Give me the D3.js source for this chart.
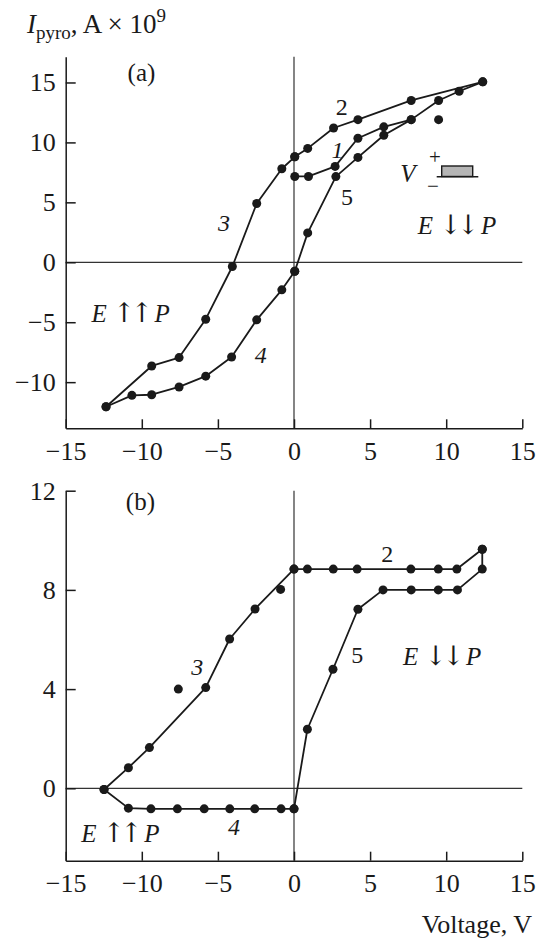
<!DOCTYPE html>
<html>
<head>
<meta charset="utf-8">
<script src="https://cdn.jsdelivr.net/npm/d3@7"></script>
<style>
  html, body { margin: 0; padding: 0; background: #fff; }
  svg text { font-family: "Liberation Serif", "Times New Roman", serif; fill: #1a1a1a; }
</style>
</head>
<body>
<svg id="chart" width="543" height="939"></svg>
<script>
'use strict';

// tick labels
var voltageTicks = [-15, -10, -5, 0, 5, 10, 15];
var topCurrentTicks = [-10, -5, 0, 5, 10, 15];
var bottomCurrentTicks = [0, 4, 8, 12];

// panel (a): [voltage, current]
var aCurve1 = [[0.05, 7.16], [0.95, 7.16], [2.7, 8.0], [4.2, 10.35], [5.9, 11.3],
    [7.7, 11.9], [9.5, 13.5], [10.85, 14.27], [12.4, 15.05]];
var aCurve2 = [[12.4, 15.05], [7.7, 13.5], [4.2, 11.9], [2.6, 11.2], [0.9, 9.5], [0.05, 8.8]];
var aCurve3 = [[0.05, 8.8], [-0.8, 7.8], [-2.45, 4.9], [-4.05, -0.35], [-5.8, -4.75],
    [-7.55, -7.95], [-9.35, -8.65], [-12.35, -12.05]];
var aCurve4 = [[-12.35, -12.05], [-10.65, -11.1], [-9.35, -11.05], [-7.55, -10.4],
    [-5.8, -9.5], [-4.1, -7.9], [-2.45, -4.8], [-0.8, -2.3], [0.05, -0.75]];
var aCurve5 = [[0.05, -0.75], [0.9, 2.45], [2.75, 7.15], [4.2, 8.75], [5.9, 10.6], [7.7, 11.9]];
var aLoose = [[9.5, 11.9]];

// panel (b)
var bCurve2 = [[12.37, 9.64], [10.7, 8.84], [9.48, 8.84], [7.68, 8.84], [4.15, 8.84],
    [2.58, 8.84], [0.88, 8.84], [0, 8.84]];
var bCurve3 = [[0, 8.84], [-2.56, 7.23], [-4.23, 6.02], [-5.8, 4.06], [-9.5, 1.64],
    [-10.88, 0.83], [-12.48, -0.05]];
var bCurve4 = [[-12.48, -0.05], [-10.88, -0.8], [-9.4, -0.83], [-7.66, -0.83], [-5.9, -0.83],
    [-4.22, -0.83], [-2.58, -0.83], [-0.85, -0.83], [0, -0.83]];
var bCurve5 = [[0, -0.83], [0.88, 2.38], [2.56, 4.8], [4.2, 7.22], [5.85, 8.0], [7.7, 8.0],
    [9.48, 8.0], [10.74, 8.0], [12.37, 8.84], [12.37, 9.64]];
var bLoose = [[-0.88, 8.02], [-7.6, 4.0]];

var svg = d3.select('#chart');
var ink = '#1a1a1a';

var xScale = d3.scaleLinear().domain([-15, 15]).range([65.7, 522.3]);
var yTop = d3.scaleLinear().domain([-13.85, 17.15]).range([428.3, 56.7]);
var yBottom = d3.scaleLinear().domain([-2.92, 12]).range([860.7, 490.7]);

function drawPanel(y, yTicks, curves, loose, labels) {
    var g = svg.append('g');
    var y0 = y.range()[0],
        y1 = y.range()[1];

    // zero cross lines
    g.append('line')
        .attr('x1', xScale(-15)).attr('x2', xScale(15))
        .attr('y1', y(0)).attr('y2', y(0))
        .attr('stroke', '#333').attr('stroke-width', 1.2);
    g.append('line')
        .attr('x1', xScale(0)).attr('x2', xScale(0))
        .attr('y1', y0).attr('y2', y1)
        .attr('stroke', '#333').attr('stroke-width', 1.2);

    var xAxis = g.append('g')
        .attr('transform', 'translate(0,' + y0 + ')')
        .call(d3.axisBottom(xScale).tickValues(voltageTicks)
            .tickSize(-9).tickSizeOuter(0).tickPadding(13));

    var yAxis = g.append('g')
        .attr('transform', 'translate(' + xScale.range()[0] + ',0)')
        .call(d3.axisLeft(y).tickValues(yTicks)
            .tickSize(-10).tickSizeOuter(0).tickPadding(10));

    [xAxis, yAxis].forEach(function(ax) {
        ax.select('.domain').attr('stroke', ink).attr('stroke-width', 1.5);
        ax.selectAll('.tick line').attr('stroke', ink).attr('stroke-width', 1.5);
        ax.selectAll('.tick text')
            .attr('fill', ink)
            .style('font-family', '"Liberation Serif", serif')
            .style('font-size', '26px');
    });

    var line = d3.line()
        .x(function(d) { return xScale(d[0]); })
        .y(function(d) { return y(d[1]); });

    g.selectAll('path.curve')
        .data(curves)
        .enter().append('path')
        .attr('class', 'curve')
        .attr('d', line)
        .attr('fill', 'none')
        .attr('stroke', ink)
        .attr('stroke-width', 1.8)
        .attr('stroke-linejoin', 'round');

    var pts = [];
    curves.forEach(function(c) { pts = pts.concat(c); });
    pts = pts.concat(loose);

    g.selectAll('circle.pt')
        .data(pts)
        .enter().append('circle')
        .attr('class', 'pt')
        .attr('cx', function(d) { return xScale(d[0]); })
        .attr('cy', function(d) { return y(d[1]); })
        .attr('r', 4.5)
        .attr('fill', ink);

    labels.forEach(function(l) {
        var t = g.append('text')
            .attr('x', xScale(l.at[0]))
            .attr('y', y(l.at[1]))
            .attr('dy', '0.35em')
            .attr('text-anchor', 'middle')
            .style('font-size', (l.size || 24) + 'px');
        if(l.field) {
            t.append('tspan').style('font-style', 'italic').text('E ');
            t.append('tspan')
                .style('font-family', '"DejaVu Serif", serif')
                .style('font-size', '27px')
                .style('letter-spacing', '-5px')
                .text(l.field);
            t.append('tspan').style('font-style', 'italic').text(' P');
        } else {
            t.style('font-style', l.italic ? 'italic' : 'normal').text(l.text);
        }
    });

    return g;
}

drawPanel(yTop, topCurrentTicks,
    [aCurve1, aCurve2, aCurve3, aCurve4, aCurve5], aLoose,
    [
        {text: '(a)', at: [-10.02, 15.88], size: 25},
        {text: '2', at: [3.13, 12.98]},
        {text: '1', at: [2.85, 9.37], italic: true},
        {text: '5', at: [3.48, 5.47]},
        {text: '3', at: [-4.6, 3.28], italic: true},
        {text: '4', at: [-2.19, -7.73], italic: true},
        {field: '\u2191\u2191', at: [-10.73, -4.25], size: 25},
        {field: '\u2193\u2193', at: [10.71, 3.11], size: 25}
    ]);

drawPanel(yBottom, bottomCurrentTicks,
    [bCurve2, bCurve3, bCurve4, bCurve5], bLoose,
    [
        {text: '(b)', at: [-10.09, 11.56], size: 25},
        {text: '2', at: [6.13, 9.48]},
        {text: '3', at: [-6.35, 4.9], italic: true},
        {text: '5', at: [4.16, 5.38]},
        {text: '4', at: [-3.94, -1.55], italic: true},
        {field: '\u2191\u2191', at: [-11.41, -1.81], size: 25},
        {field: '\u2193\u2193', at: [9.74, 5.31], size: 25}
    ]);

// small sample/electrode sketch in panel (a)
var icon = svg.append('g');
icon.append('text').attr('x', 408).attr('y', 173).attr('dy', '0.35em')
    .attr('text-anchor', 'middle').style('font-style', 'italic').style('font-size', '25px').text('V');
icon.append('text').attr('x', 435).attr('y', 157).attr('dy', '0.35em')
    .attr('text-anchor', 'middle').style('font-size', '21px').text('+');
icon.append('text').attr('x', 433).attr('y', 186).attr('dy', '0.35em')
    .attr('text-anchor', 'middle').style('font-size', '21px').text('\u2212');
icon.append('rect').attr('x', 441.7).attr('y', 166).attr('width', 31).attr('height', 10.5)
    .attr('fill', '#b5b5b5').attr('stroke', ink).attr('stroke-width', 1.4);
icon.append('line').attr('x1', 436.7).attr('x2', 478.3).attr('y1', 176.7).attr('y2', 176.7)
    .attr('stroke', ink).attr('stroke-width', 1.5);

// axis titles
var title = svg.append('text').attr('x', 27).attr('y', 33).style('font-size', '27px');
title.append('tspan').style('font-style', 'italic').text('I');
title.append('tspan').attr('dy', 6).style('font-size', '19px').text('pyro');
title.append('tspan').attr('dy', -6).text(', A \u00d7 10');
title.append('tspan').attr('dy', -11).style('font-size', '19px').text('9');

svg.append('text')
    .attr('x', 532).attr('y', 933)
    .attr('text-anchor', 'end')
    .style('font-size', '26px')
    .text('Voltage, V');
</script>
</body>
</html>
